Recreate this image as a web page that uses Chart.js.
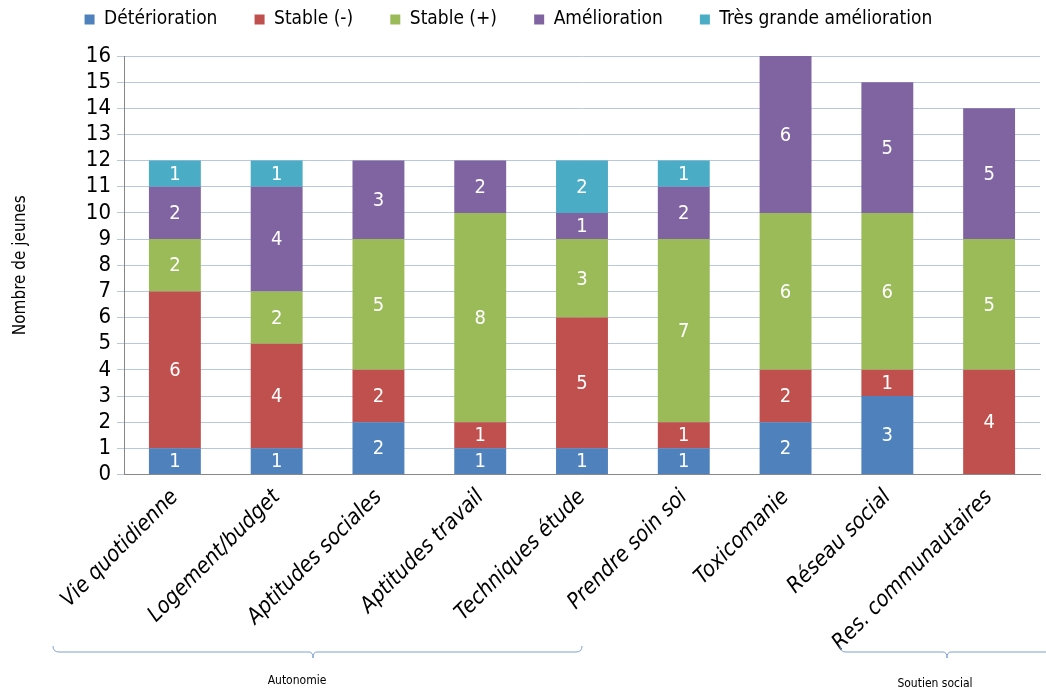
<!DOCTYPE html>
<html>
<head>
<meta charset="utf-8">
<script src="https://cdn.jsdelivr.net/npm/chart.js@4"></script>
<style>
  html, body { margin: 0; padding: 0; background: #fff; }
  #wrap { width: 1046px; height: 689px; }
</style>
</head>
<body>
<div id="wrap"><canvas id="myChart"></canvas></div>
<script>
const categories = ["Vie quotidienne", "Logement/budget", "Aptitudes sociales", "Aptitudes travail",
  "Techniques étude", "Prendre soin soi", "Toxicomanie", "Réseau social", "Res. communautaires"];
const deterioration = [1, 1, 2, 1, 1, 1, 2, 3, 0];
const stableMoins = [6, 4, 2, 1, 5, 1, 2, 1, 4];
const stablePlus = [2, 2, 5, 8, 3, 7, 6, 6, 5];
const amelioration = [2, 4, 3, 2, 1, 2, 6, 5, 5];
const tresGrande = [1, 1, 0, 0, 2, 1, 0, 0, 0];
const groups = [
  { label: "Autonomie", x1: 53, x2: 582, tip: 313, tx: 297, ty: 681 },
  { label: "Soutien social", x1: 840, x2: 1052, tip: 947, tx: 935, ty: 684 }
];

const font = "'Liberation Sans Narrow', 'DejaVu Sans Condensed', 'Open Sans', sans-serif";

// white numbers inside each segment
const segLabels = {
  id: "segLabels",
  afterDatasetsDraw(chart) {
    const c = chart.ctx;
    c.save();
    c.fillStyle = "#fff";
    c.font = "20px " + font;
    c.textAlign = "center";
    c.textBaseline = "middle";
    chart.data.datasets.forEach((ds, i) => {
      chart.getDatasetMeta(i).data.forEach((bar, j) => {
        const v = ds.data[j];
        if (!v) return;
        c.fillText(v, bar.x, (bar.y + bar.base) / 2 + 1);
      });
    });
    c.restore();
  }
};

// brackets under the category groups
const brackets = {
  id: "brackets",
  afterDraw(chart) {
    const c = chart.ctx;
    const y = 652;
    c.save();
    c.strokeStyle = "#7f9fcf";
    c.lineWidth = 1;
    c.fillStyle = "#000";
    c.font = "12px " + font;
    c.textAlign = "center";
    groups.forEach((g) => {
      c.beginPath();
      c.moveTo(g.x1, y - 6);
      c.quadraticCurveTo(g.x1, y, g.x1 + 6, y);
      c.lineTo(g.tip - 4, y);
      c.quadraticCurveTo(g.tip, y, g.tip, y + 6);
      c.quadraticCurveTo(g.tip, y, g.tip + 4, y);
      c.lineTo(g.x2 - 6, y);
      c.quadraticCurveTo(g.x2, y, g.x2, y - 6);
      c.stroke();
      c.fillText(g.label, g.tx, g.ty);
    });
    c.restore();
  }
};

// extra room under the legend
const legendGap = {
  id: "legendGap",
  beforeInit(chart) {
    const fit = chart.legend.fit;
    chart.legend.fit = function () {
      fit.bind(chart.legend)();
      this.height += 17;
    };
  }
};

const ctx = document.getElementById("myChart").getContext("2d");
const myChart = new Chart(ctx, {
  type: "bar",
  data: {
    labels: categories,
    datasets: [
      { label: "Détérioration", data: deterioration, backgroundColor: "#4F81BD" },
      { label: "Stable (-)", data: stableMoins, backgroundColor: "#C0504D" },
      { label: "Stable (+)", data: stablePlus, backgroundColor: "#9BBB59" },
      { label: "Amélioration", data: amelioration, backgroundColor: "#8064A2" },
      { label: "Très grande amélioration", data: tresGrande, backgroundColor: "#4BACC6" }
    ].map((d) => Object.assign(d, { categoryPercentage: 1, barPercentage: 0.51, borderWidth: 0 }))
  },
  options: {
    responsive: true,
    maintainAspectRatio: false,
    animation: false,
    layout: { padding: { left: 4, right: 6, top: 0, bottom: 31 } },
    plugins: {
      legend: {
        position: "top",
        labels: {
          boxWidth: 10, boxHeight: 10, padding: 10, color: "#000",
          font: { family: font, size: 19 },
          generateLabels(chart) {
            const items = Chart.defaults.plugins.legend.labels.generateLabels(chart);
            items.forEach((it) => { it.text = it.text + "     "; });
            return items;
          }
        }
      },
      tooltip: { enabled: false }
    },
    scales: {
      x: {
        stacked: true,
        grid: { display: false },
        border: { color: "#888" },
        ticks: {
          color: "#000", maxRotation: 45, minRotation: 45, padding: 2,
          font: { family: font, size: 22, style: "italic" }
        }
      },
      y: {
        stacked: true,
        min: 0, max: 16,
        afterFit(scale) { scale.width = 120; },
        grid: { color: "#b8c6de", tickLength: 7 },
        border: { color: "#888" },
        ticks: { stepSize: 1, autoSkip: false, color: "#000", padding: 6, font: { family: font, size: 22 } },
        title: { display: true, text: "Nombre de jeunes", color: "#000", padding: { top: 6, bottom: 18 },
          font: { family: font, size: 17 } }
      }
    }
  },
  plugins: [segLabels, brackets, legendGap]
});
</script>
</body>
</html>
